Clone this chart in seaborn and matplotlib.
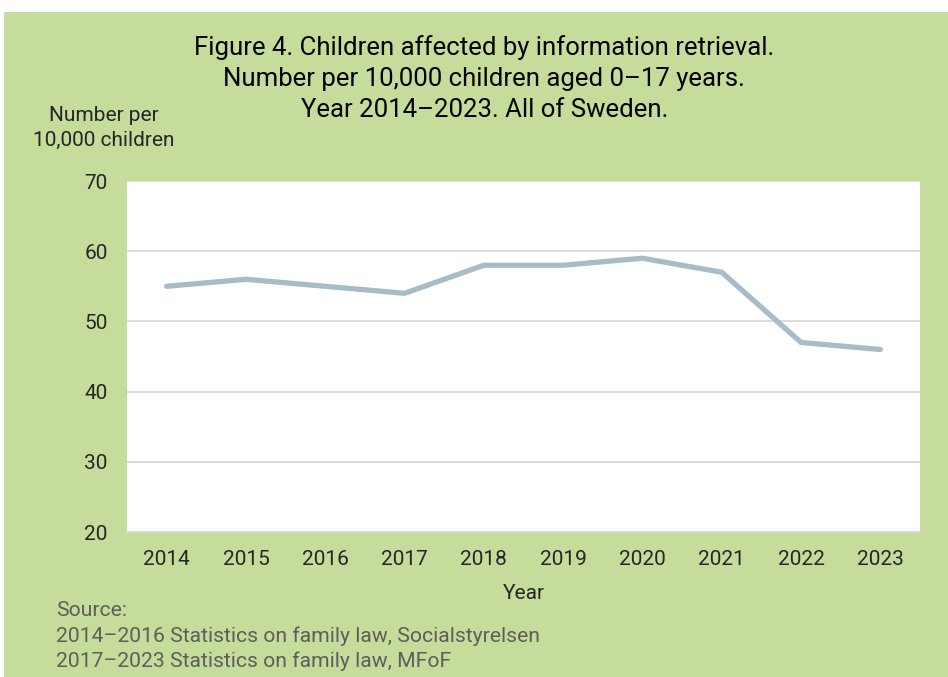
import matplotlib
matplotlib.use("Agg")
import matplotlib.pyplot as plt
import seaborn as sns
import pandas as pd
from matplotlib.patches import Rectangle

# data
years = ["2014", "2015", "2016", "2017", "2018", "2019", "2020", "2021", "2022", "2023"]
per_10000 = [55, 56, 55, 54, 58, 58, 59, 57, 47, 46]
y_ticks = [20, 30, 40, 50, 60, 70]

title = ("Figure 4. Children affected by information retrieval.\n"
         "Number per 10,000 children aged 0\u201317 years.\n"
         "Year 2014\u20132023. All of Sweden.")
source_lines = ["Source:",
                "2014\u20132016 Statistics on family law, Socialstyrelsen",
                "2017\u20132023 Statistics on family law, MFoF"]

GREEN = "#c5dc9b"
LINE = "#a7bcc6"
TEXT = "#262626"

sns.set_theme(style="white")
plt.rcParams["font.family"] = ["Roboto", "DejaVu Sans"]

df = pd.DataFrame({"year": years, "value": per_10000})

fig = plt.figure(figsize=(9.48, 6.77), dpi=100)
fig.patch.set_facecolor("white")
fig.patches.append(Rectangle((4 / 948, 0), 1, 1 - 12 / 677, transform=fig.transFigure,
                             facecolor=GREEN, edgecolor="none", zorder=-10))

ax = fig.add_axes([127 / 948, 1 - 532 / 677, 793 / 948, 351 / 677])
ax.set_facecolor("white")
sns.lineplot(data=df, x="year", y="value", ax=ax, color=LINE, linewidth=3.8,
             solid_capstyle="round", solid_joinstyle="miter", sort=False)

ax.set_xlim(-0.5, len(years) - 0.5)
ax.set_ylim(20, 70)
ax.set_yticks(y_ticks)
ax.yaxis.grid(True, color="#d9d9d9", linewidth=1.3)
ax.set_axisbelow(True)
for side in ["left", "right", "top"]:
    ax.spines[side].set_visible(False)
ax.spines["bottom"].set_color("#d9d9d9")
ax.spines["bottom"].set_linewidth(1.3)
ax.tick_params(axis="both", length=0, labelsize=15, labelcolor=TEXT)
ax.tick_params(axis="x", pad=13)
ax.tick_params(axis="y", pad=14)

ax.set_xlabel("Year", fontsize=15, color=TEXT, labelpad=11)
ax.set_ylabel("")

fig.text(0.511, 1 - 35 / 677, title, ha="center", va="top", fontsize=18.5,
         color="black", linespacing=1.38)
fig.text(104 / 948, 1 - 106 / 677, "Number per\n10,000 children", ha="center", va="top",
         fontsize=15, color=TEXT, linespacing=1.4)

# source lines, one text each
for i, line in enumerate(source_lines):
    fig.text(56 / 948, 1 - (611 + 25 * i) / 677, line, ha="left", va="center",
             fontsize=15.2, color="#5e5e5e")

fig.savefig("out.png", dpi=100, facecolor=fig.get_facecolor())
